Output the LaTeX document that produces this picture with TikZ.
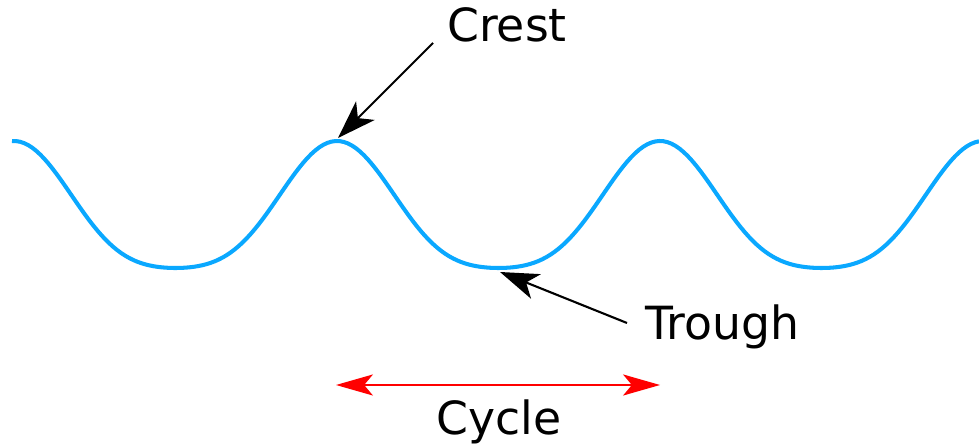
\documentclass[tikz,border=0pt]{standalone}
\usepackage{fontspec}
\setmainfont{DejaVu Sans}
\usetikzlibrary{arrows.meta}
\definecolor{wblue}{HTML}{0AA8FF}
\definecolor{cred}{HTML}{FF0000}

\begin{document}
\begin{tikzpicture}[
    x=0.01cm, y=-0.01cm,
    >={Stealth[length=11pt,width=7.5pt,inset=3pt]},
    every node/.style={font=\fontsize{13}{15}\selectfont, inner sep=0pt},
    wave/.style={wblue, line width=1.15pt},
    pointer/.style={black, line width=0.6pt, ->},
    span/.style={cred, line width=0.45pt, <->, >={Stealth[length=10.5pt,width=6pt,inset=2.5pt]}},
]
\useasboundingbox (0,0) rectangle (979,446);

% ============================================================
% Wave geometry (pixel units, y downwards)
% ============================================================
\def\Per{323}
\def\Amp{63.5}
\def\Ytop{141}

% Wave: flat troughs via a second harmonic
\draw[wave] plot[domain=12:979, samples=240]
  (\x, {\Ytop + (1.18 - cos(360/\Per*(\x-14)) - 0.18*cos(720/\Per*(\x-14)))*\Amp});

\coordinate (Top)    at (338,138);
\coordinate (Bottom) at (500,272);
\coordinate (CrestTail)  at (433,43);
\coordinate (TroughTail) at (627,323);
\coordinate (CycleL) at (336,385);
\coordinate (CycleR) at (660,385);

% Labels
\node[anchor=base] (crest)  at (507,42)  {Crest};
\node[anchor=base] (trough) at (722,340) {Trough};
\node[anchor=base] (cycle)  at (499,435) {Cycle};

% Pointers
\draw[pointer] (CrestTail)  -- (Top);
\draw[pointer] (TroughTail) -- (Bottom);
\draw[span] (CycleL) -- (CycleR);

\end{tikzpicture}
\end{document}
